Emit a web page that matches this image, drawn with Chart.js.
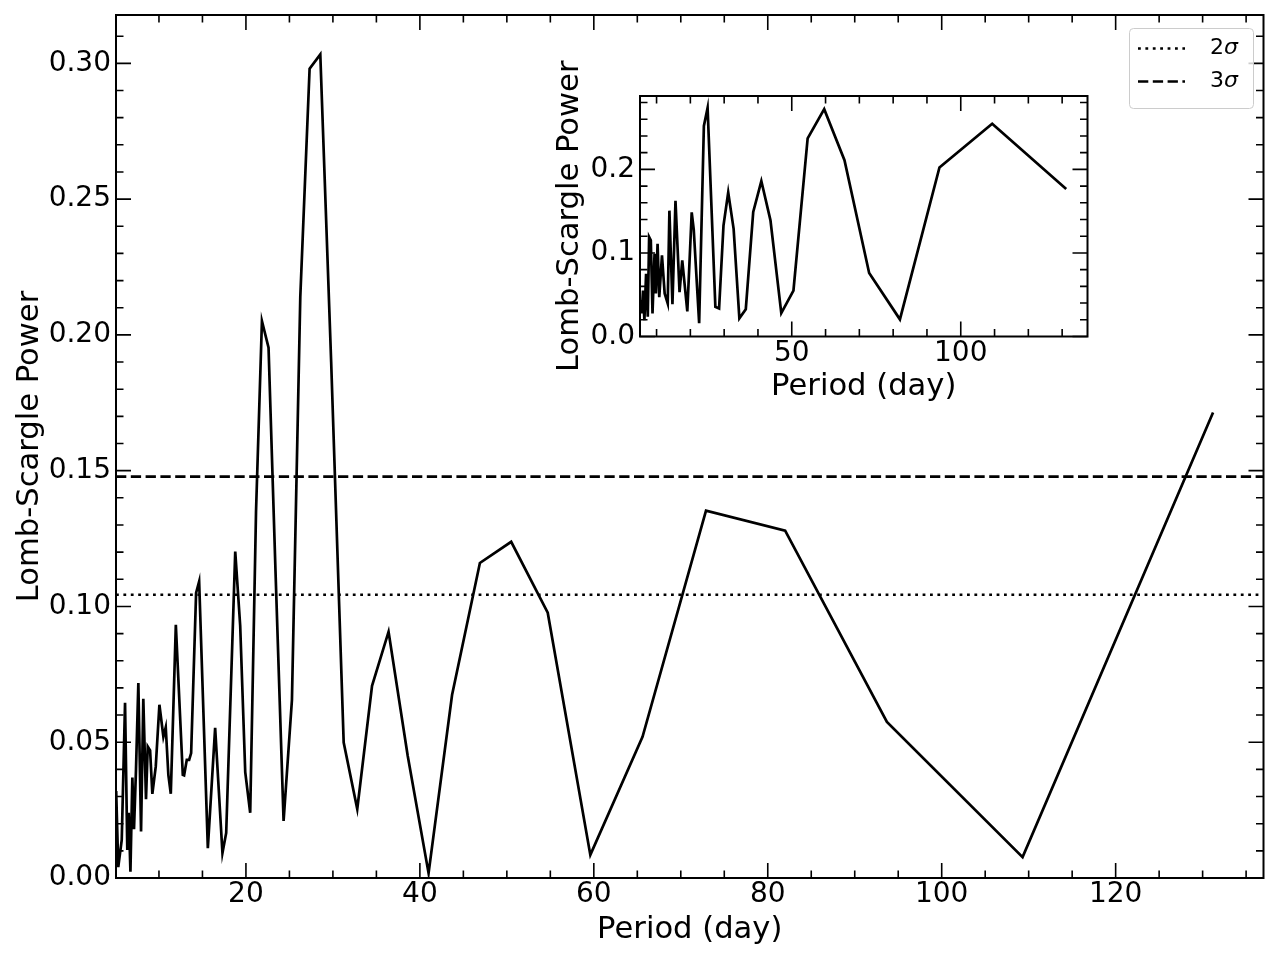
<!DOCTYPE html>
<html><head><meta charset="utf-8">
<script src="https://cdn.jsdelivr.net/npm/chart.js@4.4.0/dist/chart.umd.min.js"></script>
<style>
html,body{margin:0;padding:0;background:#fff;}
#wrap{position:relative;width:1280px;height:960px;background:#fff;}
#main{position:absolute;left:0;top:0;width:1280px;height:960px;}
#inset{position:absolute;left:540px;top:40px;width:560px;height:370px;}
</style></head><body>
<div id="wrap">
<canvas id="main" width="1280" height="960"></canvas>
<canvas id="inset" width="560" height="370"></canvas>
</div>
<script>
// ---------- main periodogram ----------
const mainPeriod = [5.08, 5.32, 5.72, 6.10, 6.36, 6.52, 6.72, 6.94, 7.13, 7.36, 7.63, 7.94, 8.20, 8.51, 8.71, 8.98, 9.24, 9.63, 10.05, 10.51, 10.78, 11.08, 11.36, 11.94, 12.74, 12.89, 13.20, 13.47, 13.70, 14.27, 14.62, 15.62, 16.46, 17.30, 17.73, 18.77, 19.34, 19.92, 20.49, 21.16, 21.84, 22.6, 23.4, 24.33, 25.29, 26.25, 27.32, 28.55, 29.8, 31.24, 32.8, 34.5, 36.4, 38.6, 41.0, 43.7, 46.9, 50.5, 54.7, 59.6, 65.6, 72.9, 82.0, 93.7, 109.3, 131.2];
const mainPower = [0.032, 0.004, 0.014, 0.0645, 0.0103, 0.024, 0.0023, 0.037, 0.018, 0.040, 0.0718, 0.0171, 0.066, 0.029, 0.0484, 0.047, 0.031, 0.041, 0.0638, 0.052, 0.0555, 0.038, 0.031, 0.0932, 0.038, 0.0378, 0.0435, 0.0435, 0.046, 0.105, 0.1092, 0.011, 0.0553, 0.0092, 0.0166, 0.1202, 0.0929, 0.039, 0.024, 0.135, 0.2051, 0.1953, 0.113, 0.021, 0.0656, 0.214, 0.298, 0.3033, 0.19, 0.0499, 0.0254, 0.0708, 0.0907, 0.045, 0.0018, 0.0674, 0.116, 0.1238, 0.0977, 0.0085, 0.052, 0.1353, 0.1279, 0.0575, 0.0077, 0.1714];
const sigmaLabels = ['2σ', '3σ'];
const sigmaLevels = [0.1043, 0.1478];
const mainXRange = [5.06, 137.0];
const mainYRange = [0, 0.3178];
const mainXTicks = [20, 40, 60, 80, 100, 120];
const mainXMinor = [10, 15, 25, 30, 35, 45, 50, 55, 65, 70, 75, 85, 90, 95, 105, 110, 115, 125, 130, 135];
const mainYTicks = [0, 0.05, 0.10, 0.15, 0.20, 0.25, 0.30];
const mainYMinor = [0.01,0.02,0.03,0.04,0.06,0.07,0.08,0.09,0.11,0.12,0.13,0.14,0.16,0.17,0.18,0.19,0.21,0.22,0.23,0.24,0.26,0.27,0.28,0.29,0.31];

// ---------- inset periodogram ----------
const insetPeriod = [5.1, 5.6, 6.0, 6.4, 6.9, 7.4, 7.8, 8.3, 8.8, 9.4, 9.8, 10.3, 10.8, 11.6, 12.4, 13.3, 13.8, 14.7, 15.6, 16.8, 17.6, 19.1, 20.4, 21.0, 22.6, 24.0, 25.1, 27.4, 28.5, 29.8, 31.2, 32.8, 34.5, 36.4, 38.6, 41.0, 43.7, 46.9, 50.5, 54.7, 59.6, 65.6, 72.9, 82.0, 93.7, 109.3, 131.2];
const insetPower = [0.0435, 0.0276, 0.055, 0.0196, 0.075, 0.0236, 0.119, 0.115, 0.0276, 0.099, 0.0514, 0.111, 0.047, 0.097, 0.0514, 0.0395, 0.1506, 0.0385, 0.1625, 0.053, 0.091, 0.030, 0.1486, 0.128, 0.016, 0.252, 0.2736, 0.0355, 0.0336, 0.1327, 0.1724, 0.1288, 0.0217, 0.0327, 0.149, 0.186, 0.139, 0.028, 0.055, 0.237, 0.272, 0.211, 0.076, 0.0205, 0.2022, 0.2545, 0.1764];
const insetXRange = [5.1, 137.5];
const insetYRange = [0, 0.2878];
const insetXTicks = [50, 100];
const insetXMinor = [10, 20, 30, 40, 60, 70, 80, 90, 110, 120, 130];
const insetYTicks = [0, 0.1, 0.2];
const insetYMinor = [0.02, 0.04, 0.06, 0.08, 0.12, 0.14, 0.16, 0.18, 0.22, 0.24, 0.26, 0.28];

const xTitle = 'Period (day)';
const yTitle = 'Lomb-Scargle Power';

Chart.defaults.font.family = '"DejaVu Sans", sans-serif';
Chart.defaults.color = '#000';

function frameTicks(xMaj, xMin, yMaj, yMin) {
  return {
    id: 'frameTicks',
    afterDraw(chart) {
      const {ctx, chartArea: a, scales: {x, y}} = chart;
      ctx.save();
      ctx.strokeStyle = '#000';
      ctx.lineCap = 'butt';
      ctx.lineWidth = 1.6;
      const dx = (vals, len) => vals.forEach(v => {
        const p = x.getPixelForValue(v);
        if (p < a.left - 0.5 || p > a.right + 0.5) return;
        ctx.beginPath();
        ctx.moveTo(p, a.bottom); ctx.lineTo(p, a.bottom - len);
        ctx.moveTo(p, a.top); ctx.lineTo(p, a.top + len);
        ctx.stroke();
      });
      const dy = (vals, len) => vals.forEach(v => {
        const p = y.getPixelForValue(v);
        if (p < a.top - 0.5 || p > a.bottom + 0.5) return;
        ctx.beginPath();
        ctx.moveTo(a.left, p); ctx.lineTo(a.left + len, p);
        ctx.moveTo(a.right, p); ctx.lineTo(a.right - len, p);
        ctx.stroke();
      });
      dx(xMaj, 15); dx(xMin, 7.5); dy(yMaj, 15); dy(yMin, 7.5);
      ctx.lineWidth = 2;
      ctx.strokeRect(a.left, a.top, a.right - a.left, a.bottom - a.top);
      ctx.restore();
    }
  };
}

const sigmaLegend = {
  id: 'sigmaLegend',
  afterDraw(chart) {
    const ctx = chart.ctx;
    ctx.save();
    ctx.fillStyle = 'rgba(255,255,255,0.8)';
    ctx.strokeStyle = '#cccccc';
    ctx.lineWidth = 1;
    ctx.beginPath();
    ctx.roundRect(1129.5, 28.5, 124, 80, 4);
    ctx.fill(); ctx.stroke();
    const items = chart.data.datasets.filter(d => d.inLegend);
    items.forEach((d, i) => {
      const yy = 48.5 + i * 33;
      ctx.strokeStyle = '#000';
      ctx.lineWidth = d.borderWidth;
      ctx.setLineDash(d.borderDash);
      ctx.beginPath(); ctx.moveTo(1138, yy); ctx.lineTo(1185, yy); ctx.stroke();
      ctx.setLineDash([]);
      ctx.fillStyle = '#000';
      ctx.textBaseline = 'middle';
      ctx.textAlign = 'left';
      const num = d.label.slice(0, -1), sym = d.label.slice(-1);
      ctx.font = '22px "DejaVu Sans"';
      ctx.fillText(num, 1210, yy);
      const w = ctx.measureText(num).width;
      ctx.font = 'italic 22px "DejaVu Sans"';
      ctx.fillText(sym, 1210 + w, yy);
    });
    ctx.restore();
  }
};

function scales(xr, yr, xt, yt, dec, xH, yW, xTitlePad, yTitlePad) {
  return {
    x: {
      type: 'linear', position: 'bottom', min: xr[0], max: xr[1],
      grid: {display: false, drawTicks: false}, border: {display: false},
      ticks: {padding: 0, font: {size: 28}, color: '#000', maxRotation: 0, autoSkip: false, callback: v => String(v)},
      afterBuildTicks: s => { s.ticks = xt.map(v => ({value: v})); },
      afterFit: s => { s.height = xH; s.paddingLeft = 0; s.paddingRight = 0; },
      title: {display: true, text: xTitle, font: {size: 30.6}, color: '#000', padding: {top: 0, bottom: xTitlePad}}
    },
    y: {
      type: 'linear', position: 'left', min: yr[0], max: yr[1],
      grid: {display: false, drawTicks: false}, border: {display: false},
      ticks: {padding: 5, font: {size: 28}, color: '#000', autoSkip: false, callback: v => v.toFixed(dec)},
      afterBuildTicks: s => { s.ticks = yt.map(v => ({value: v})); },
      afterFit: s => { s.width = yW; s.paddingTop = 0; s.paddingBottom = 0; },
      title: {display: true, text: yTitle, font: {size: 30.6}, color: '#000', padding: {top: yTitlePad, bottom: 0}}
    }
  };
}

const lw = 2.7;
new Chart(document.getElementById('main'), {
  type: 'line',
  data: {
    datasets: [
      {label: 'power', data: mainPeriod.map((p, i) => ({x: p, y: mainPower[i]})), borderColor: '#000', borderWidth: lw, pointRadius: 0, tension: 0, fill: false},
      {label: sigmaLabels[0], inLegend: true, data: [{x: mainXRange[0], y: sigmaLevels[0]}, {x: mainXRange[1], y: sigmaLevels[0]}], borderColor: '#000', borderWidth: lw, borderDash: [2.8, 4.6], pointRadius: 0, fill: false},
      {label: sigmaLabels[1], inLegend: true, data: [{x: mainXRange[0], y: sigmaLevels[1]}, {x: mainXRange[1], y: sigmaLevels[1]}], borderColor: '#000', borderWidth: lw, borderDash: [10.3, 4.5], pointRadius: 0, fill: false}
    ]
  },
  options: {
    responsive: false, animation: false, devicePixelRatio: 1,
    layout: {padding: {left: 0, top: 15, right: 16.5, bottom: 0}},
    plugins: {legend: {display: false}, tooltip: {enabled: false}},
    scales: scales(mainXRange, mainYRange, mainXTicks, mainYTicks, 2, 82, 116, 11.6, 11.6)
  },
  plugins: [frameTicks(mainXTicks, mainXMinor, mainYTicks, mainYMinor), sigmaLegend]
});

new Chart(document.getElementById('inset'), {
  type: 'line',
  data: {
    datasets: [
      {label: 'inset power', data: insetPeriod.map((p, i) => ({x: p, y: insetPower[i]})), borderColor: '#000', borderWidth: lw, pointRadius: 0, tension: 0, fill: false}
    ]
  },
  options: {
    responsive: false, animation: false, devicePixelRatio: 1,
    layout: {padding: {left: 0, top: 56, right: 12.5, bottom: 0}},
    plugins: {legend: {display: false}, tooltip: {enabled: false}},
    scales: scales(insetXRange, insetYRange, insetXTicks, insetYTicks, 1, 73.5, 100, 4.6, 11.6)
  },
  plugins: [frameTicks(insetXTicks, insetXMinor, insetYTicks, insetYMinor)]
});
</script>
</body></html>
